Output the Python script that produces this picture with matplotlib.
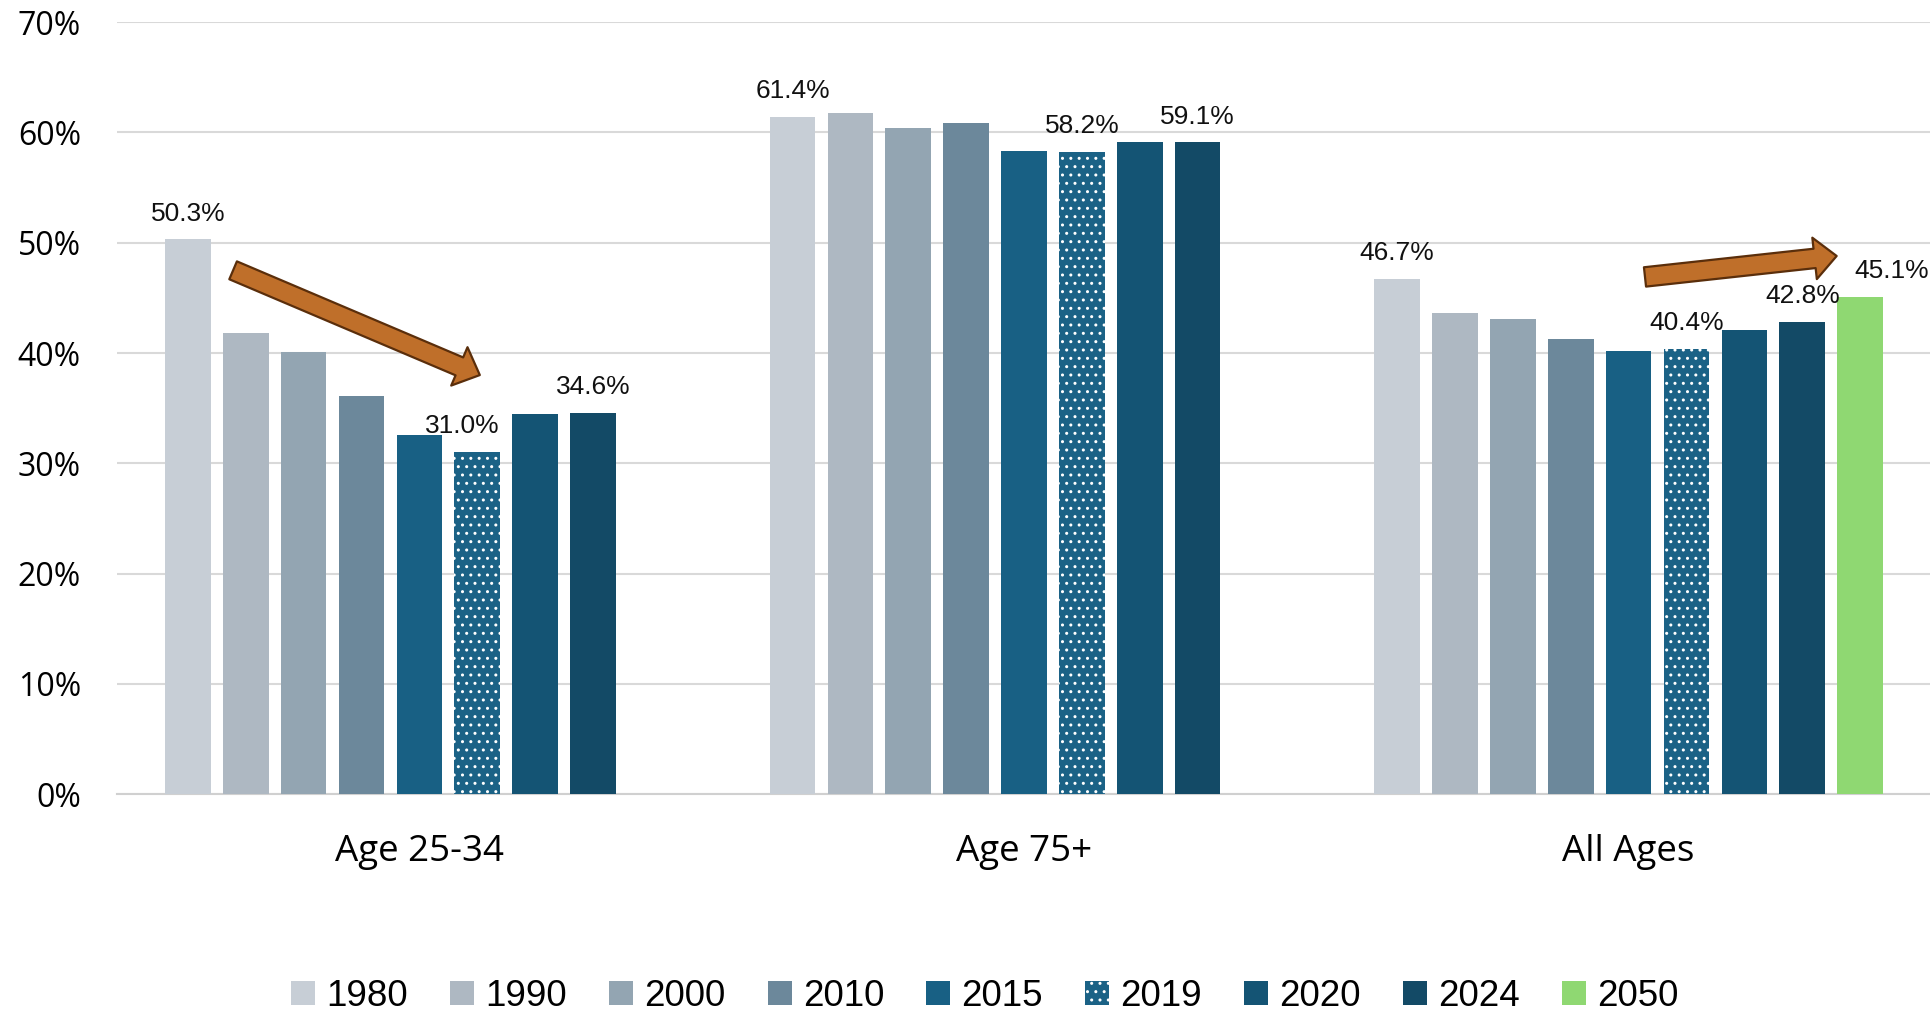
import matplotlib
matplotlib.use("Agg")
import matplotlib.pyplot as plt
import numpy as np
from matplotlib.patches import FancyArrowPatch, ArrowStyle

categories = ["Age 25-34", "Age 75+", "All Ages"]
years = ["1980", "1990", "2000", "2010", "2015", "2019", "2020", "2024", "2050"]
values = {
    "1980": [50.3, 61.4, 46.7],
    "1990": [41.8, 61.8, 43.6],
    "2000": [40.1, 60.4, 43.1],
    "2010": [36.1, 60.9, 41.3],
    "2015": [32.6, 58.3, 40.2],
    "2019": [31.0, 58.2, 40.4],
    "2020": [34.5, 59.1, 42.1],
    "2024": [34.6, 59.1, 42.8],
    "2050": [np.nan, np.nan, 45.1],
}
colors = ["#C7CED6", "#AEB8C2", "#93A5B2", "#6C889B", "#186084",
          "#1B6286", "#145474", "#134A66", "#8FD872"]
# (category index, year) pairs that carry a value label
labelled = [(0, "1980"), (0, "2019"), (0, "2024"),
            (1, "1980"), (1, "2019"), (1, "2024"),
            (2, "1980"), (2, "2019"), (2, "2024"), (2, "2050")]
yticks = [0, 10, 20, 30, 40, 50, 60, 70]

fig = plt.figure(figsize=(19.31, 10.11), dpi=100)
ax = fig.add_axes([0.0606, 0.2146, 0.9394, 0.7634])

x = np.arange(len(categories))
stride = 0.0957
width = 0.0754
bars = {}
for i, (yr, col) in enumerate(zip(years, colors)):
    off = (i - (len(years) - 1) / 2) * stride
    kw = dict(color=col, linewidth=0, zorder=3)
    if yr == "2019":
        kw.update(hatch="..", edgecolor="white", linewidth=0)
    bars[yr] = ax.bar(x + off, values[yr], width, label=yr, **kw)

for ci, yr in labelled:
    b = bars[yr][ci]
    v = values[yr][ci]
    dx = 0
    if yr == "2019" and ci == 0:
        dx = -11
    if yr == "2050":
        dx = 23
    ax.annotate(f"{v:.1f}%", (b.get_x() + b.get_width() / 2, v),
                xytext=(dx, 10), textcoords="offset points",
                ha="center", va="bottom", fontsize=19,
                family="Liberation Sans", color="#111111", zorder=5)

# trend arrows
style = ArrowStyle.Simple(head_length=16, head_width=30, tail_width=14)
for (x0, y0), (x1, y1) in [((-0.308, 47.5), (0.100, 38.0)),
                           ((2.027, 46.9), (2.344, 48.8))]:
    arr = FancyArrowPatch((x0, y0), (x1, y1), arrowstyle=style,
                          mutation_scale=1, shrinkA=0, shrinkB=0,
                          facecolor="#BF6F2A", edgecolor="#5A2E0B",
                          linewidth=1.6, zorder=6)
    ax.add_patch(arr)

ax.set_xlim(-0.5, 2.5)
ax.set_ylim(0, 70)
ax.set_yticks(yticks)
ax.set_yticklabels([f"{t}%" for t in yticks], fontsize=23,
                   family="Open Sans")
ax.set_xticks(x)
ax.set_xticklabels(categories, fontsize=26.5, family="Open Sans")
ax.tick_params(axis="both", length=0)
ax.tick_params(axis="x", pad=29)
ax.tick_params(axis="y", pad=26)
ax.grid(axis="y", color="#D9D9D9", linewidth=1.5, zorder=0)
for s in ["top", "right", "left"]:
    ax.spines[s].set_visible(False)
ax.spines["bottom"].set_color("#D0D0D0")
ax.spines["bottom"].set_linewidth(1.5)

leg = fig.legend(*ax.get_legend_handles_labels(), loc="center",
                 bbox_to_anchor=(0.51, 0.0145), ncol=9, frameon=False,
                 prop={"family": "Liberation Sans", "size": 26.5},
                 handlelength=0.65, handleheight=0.65, handletextpad=0.3,
                 columnspacing=1.15, borderpad=0.1)

fig.savefig("out.png", dpi=100)
